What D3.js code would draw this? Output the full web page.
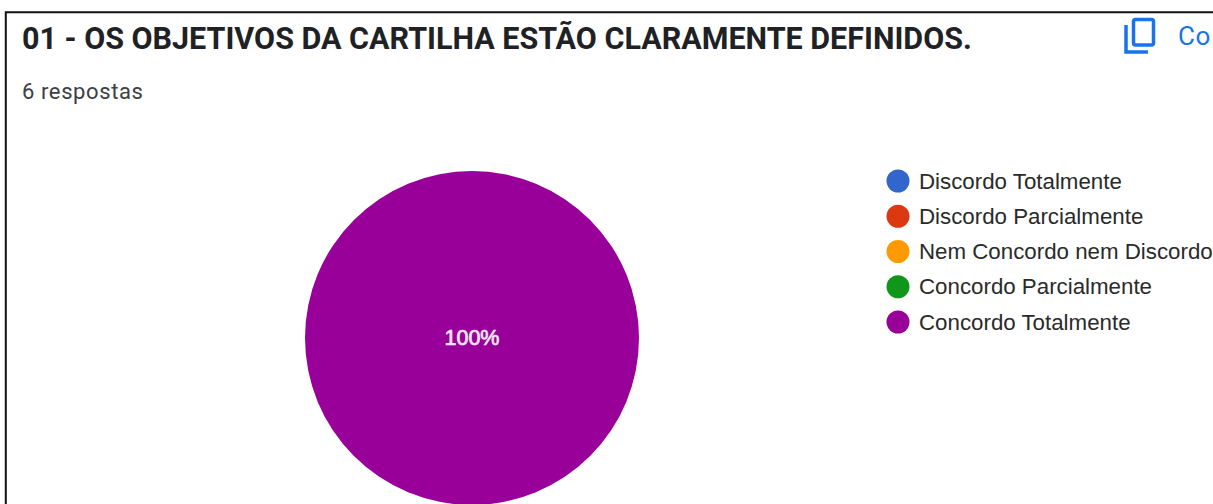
<!DOCTYPE html>
<html lang="en">
<head>
<meta charset="utf-8">
<title>01 - Os objetivos</title>
<script src="https://d3js.org/d3.v7.min.js"></script>
<style>
  html, body { margin: 0; padding: 0; background: #fff; overflow: hidden; }
  svg { display: block; }
</style>
</head>
<body>
<script>
// data
var title = "01 - OS OBJETIVOS DA CARTILHA ESTÃO CLARAMENTE DEFINIDOS.";
var subtitle = "6 respostas";
var copyLabel = "Co"; // cut by the window in the reference
var categories = ["Discordo Totalmente", "Discordo Parcialmente", "Nem Concordo nem Discordo", "Concordo Parcialmente", "Concordo Totalmente"];
var values = [0, 0, 0, 0, 6];
var colors = ["#3366cc", "#dc3912", "#ff9900", "#109618", "#990099"];

var w = 1213, h = 504;

var svg = d3.select("body").append("svg")
  .attr("width", w)
  .attr("height", h);

svg.append("rect").attr("width", w).attr("height", h).attr("fill", "#fff");

// screenshot border, top and left only
svg.append("path")
  .attr("d", "M5.8,504V12.3H1213")
  .attr("fill", "none")
  .attr("stroke", "#111")
  .attr("stroke-width", 2);

svg.append("text")
  .attr("x", 22).attr("y", 49)
  .attr("font-family", "Roboto")
  .attr("font-weight", 700)
  .attr("font-size", 30.5)
  .attr("fill", "#202124")
  .text(title);

svg.append("text")
  .attr("x", 22).attr("y", 99)
  .attr("font-family", "Roboto")
  .attr("font-size", 22)
  .attr("letter-spacing", 0.6)
  .attr("fill", "#3c4043")
  .text(subtitle);

// copy icon
var icon = svg.append("g").attr("fill", "none").attr("stroke", "#1a73e8").attr("stroke-width", 3.5);
icon.append("rect").attr("x", 1133.5).attr("y", 19.5).attr("width", 20).attr("height", 25.5).attr("rx", 2);
icon.append("path").attr("d", "M1126,25V52H1148");

svg.append("text")
  .attr("x", 1178).attr("y", 45)
  .attr("font-family", "Roboto")
  .attr("font-size", 26)
  .attr("letter-spacing", 0.6)
  .attr("fill", "#1a73e8")
  .text(copyLabel);

// pie
var total = d3.sum(values);
var pie = d3.pie().sort(null).value(d => d.value);
var arc = d3.arc().innerRadius(0).outerRadius(167);
var pieData = pie(categories.map((c, i) => ({name: c, value: values[i], color: colors[i]})));

var pieG = svg.append("g").attr("transform", "translate(472,338)");

pieG.selectAll("path")
  .data(pieData.filter(d => d.value > 0))
  .enter()
  .append("path")
  .attr("d", arc)
  .attr("fill", d => d.data.color);

var pct = d3.format(".0%");
pieG.selectAll("text")
  .data(pieData.filter(d => d.value > 0))
  .enter()
  .append("text")
  .attr("text-anchor", "middle")
  .attr("y", 7)
  .attr("font-family", "Liberation Sans")
  .attr("font-size", 21.5)
  .attr("fill", "#f3e6f3")
  .attr("stroke", "#f3e6f3")
  .attr("stroke-width", 0.7)
  .text(d => pct(d.value / total));

// legend
var yLegend = d3.scalePoint().domain(categories).range([181, 322]);

var items = svg.selectAll("g.legend")
  .data(categories)
  .enter()
  .append("g")
  .attr("class", "legend")
  .attr("transform", d => "translate(0," + yLegend(d) + ")");

items.append("circle")
  .attr("cx", 898)
  .attr("r", 11.5)
  .attr("fill", (d, i) => colors[i]);

items.append("text")
  .attr("x", 919)
  .attr("y", 7.5)
  .attr("font-family", "Liberation Sans")
  .attr("font-size", 22.3)
  .attr("fill", "#2a2a2a")
  .text(d => d);
</script>
</body>
</html>
